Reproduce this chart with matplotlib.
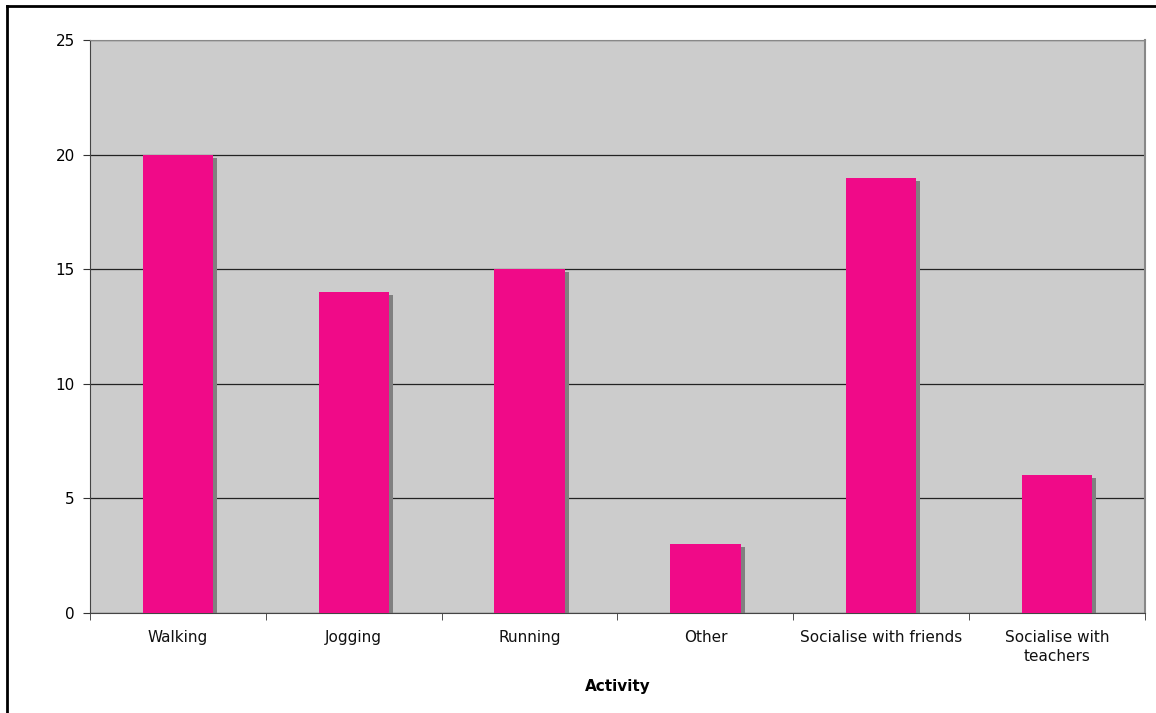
import matplotlib.pyplot as plt
from matplotlib.patches import Rectangle
import numpy as np

plt.rcParams["font.family"] = ["DejaVu Sans"]

activities = ["Walking", "Jogging", "Running", "Other",
              "Socialise with friends", "Socialise with\nteachers"]
counts = [20, 14, 15, 3, 19, 6]
yticks = [0, 5, 10, 15, 20, 25]

W, H = 1156, 713
fig = plt.figure(figsize=(W / 100, H / 100), dpi=100)
fig.patch.set_facecolor("white")

# chart frame (right and bottom edges run off the canvas)
fig.add_artist(plt.Line2D([7 / W, 7 / W], [0, 1 - 6 / H], color="black", lw=2))
fig.add_artist(plt.Line2D([7 / W, 1], [1 - 6 / H, 1 - 6 / H], color="black", lw=2))

left, right, top, bottom = 90, 1145, 40, 613
ax = fig.add_axes([left / W, 1 - bottom / H, (right - left) / W, (bottom - top) / H])
ax.set_facecolor("#cccccc")

x = np.arange(len(activities))
bar_w = 0.4

# drop shadows offset right/down in pixels
px_x = len(activities) / (right - left)
px_y = 25 / (bottom - top)
for xi, v in zip(x, counts):
    ax.add_patch(Rectangle((xi - bar_w / 2 + 4 * px_x, 0), bar_w, v - 3 * px_y,
                           facecolor="#808080", edgecolor="none", zorder=2))
ax.bar(x, counts, width=bar_w, color="#f00a88", zorder=3)

ax.set_xlim(-0.5, len(activities) - 0.5)
ax.set_ylim(0, 25)
ax.set_yticks(yticks)
ax.yaxis.grid(True, color="#222222", lw=0.9, zorder=1)
ax.set_axisbelow(True)

ax.set_xticks(x)
ax.set_xticklabels(activities, fontsize=11, color="#111111", linespacing=1.35)
ax.set_xticks(np.arange(len(activities) + 1) - 0.5, minor=True)
ax.tick_params(axis="x", which="major", length=0, pad=12)
ax.tick_params(axis="x", which="minor", length=5, color="#333333")
ax.tick_params(axis="y", length=5, color="#333333", labelsize=11, pad=6)

for s in ["left", "bottom"]:
    ax.spines[s].set_color("#444444")
ax.spines["top"].set_color("#888888")
ax.spines["right"].set_color("#888888")
ax.spines["right"].set_linewidth(1.5)

ax.set_xlabel("Activity", fontsize=11, fontweight="bold", labelpad=11)

fig.savefig("out.png", dpi=100)
